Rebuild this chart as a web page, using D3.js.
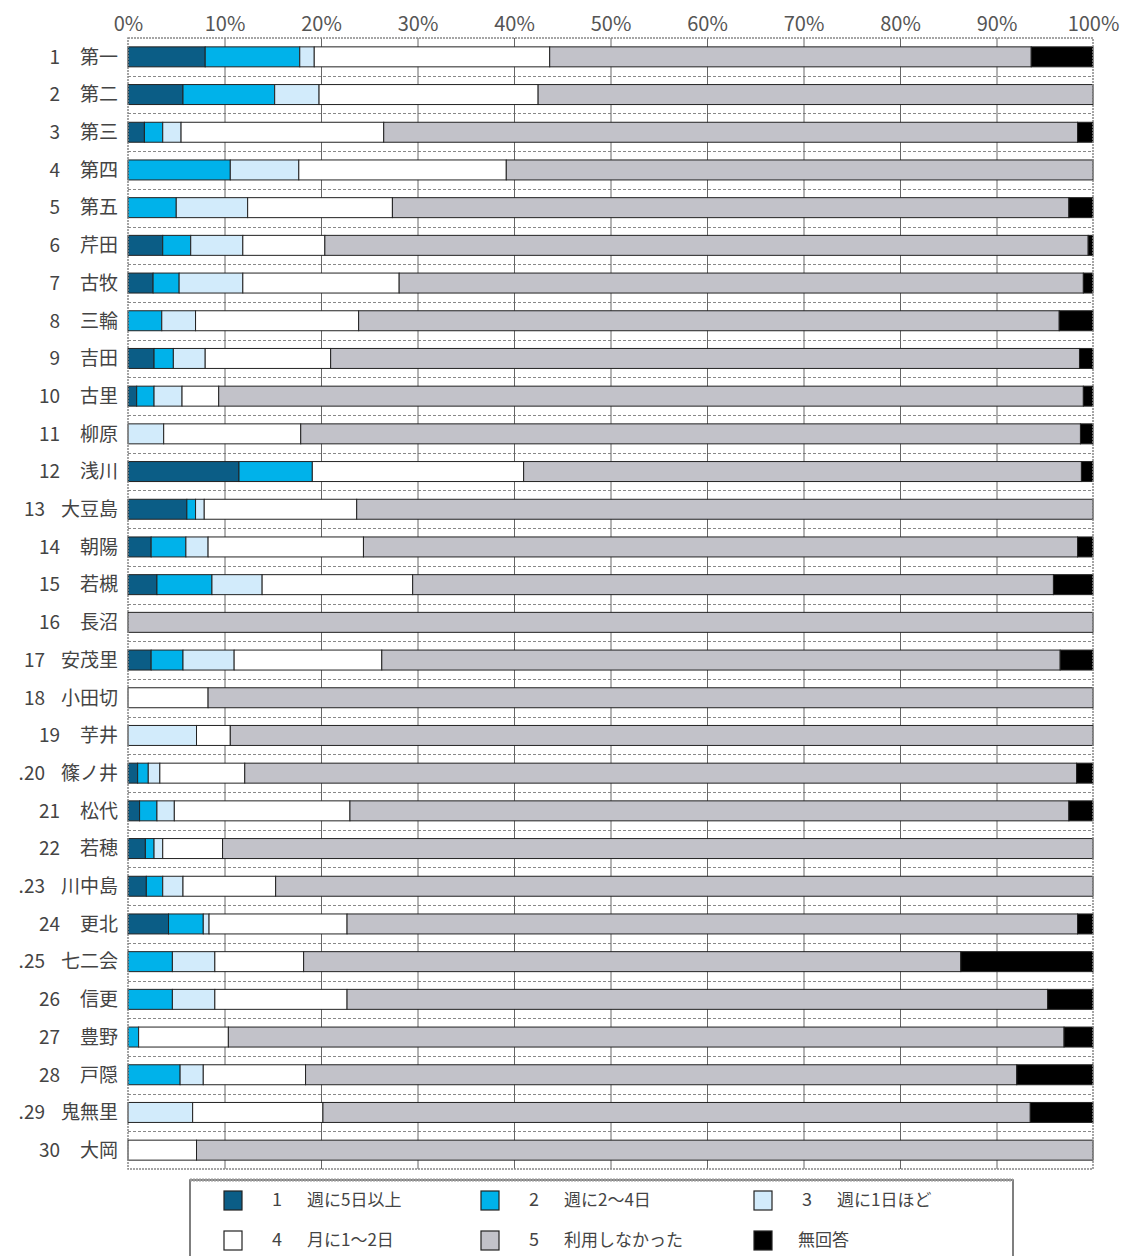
<!DOCTYPE html>
<html>
<head>
<meta charset="utf-8">
<script src="https://cdn.jsdelivr.net/npm/d3@7"></script>
<style>
  body { margin: 0; background: #fff; }
  svg { display: block; }
  text { font-family: "Noto Sans CJK JP", "Liberation Sans", sans-serif; fill: #444; }
</style>
</head>
<body>
<svg width="1125" height="1256"></svg>
<script>
const districtNums = ['1', '2', '3', '4', '5', '6', '7', '8', '9', '10',
    '11', '12', '13', '14', '15', '16', '17', '18', '19', '.20',
    '21', '22', '.23', '24', '.25', '26', '27', '28', '.29', '30'];
const districtNames = ['第一', '第二', '第三', '第四', '第五', '芹田', '古牧', '三輪', '吉田', '古里',
    '柳原', '浅川', '大豆島', '朝陽', '若槻', '長沼', '安茂里', '小田切', '芋井', '篠ノ井',
    '松代', '若穂', '川中島', '更北', '七二会', '信更', '豊野', '戸隠', '鬼無里', '大岡'];

const seriesKeys = ['s1', 's2', 's3', 's4', 's5', 'na'];
const seriesNums = ['1', '2', '3', '4', '5', ''];
const seriesLabels = ['週に5日以上', '週に2～4日', '週に1日ほど', '月に1～2日', '利用しなかった', '無回答'];

const s1 = [8.0, 5.7, 1.7, 0, 0, 3.6, 2.6, 0, 2.7, 0.9, 0, 11.5, 6.1, 2.4, 3.0, 0, 2.4, 0, 0, 1.0, 1.2, 1.8, 1.9, 4.2, 0, 0, 0, 0, 0, 0];
const s2 = [9.8, 9.5, 1.9, 10.6, 5.0, 2.9, 2.7, 3.5, 2.0, 1.8, 0, 7.6, 0.9, 3.6, 5.7, 0, 3.3, 0, 0, 1.1, 1.8, 0.9, 1.7, 3.6, 4.6, 4.6, 1.1, 5.4, 0, 0];
const s3 = [1.5, 4.6, 1.9, 7.1, 7.4, 5.4, 6.6, 3.5, 3.3, 2.9, 3.7, 0, 0.9, 2.3, 5.2, 0, 5.3, 0, 7.1, 1.2, 1.8, 0.9, 2.1, 0.6, 4.4, 4.4, 0, 2.4, 6.7, 0];
const s4 = [24.4, 22.7, 21.0, 21.5, 15.0, 8.5, 16.2, 16.9, 13.0, 3.8, 14.2, 21.9, 15.8, 16.1, 15.6, 0, 15.3, 8.3, 3.5, 8.8, 18.2, 6.2, 9.6, 14.3, 9.2, 13.7, 9.3, 10.6, 13.5, 7.1];
const s5 = [49.9, 57.5, 71.9, 60.8, 70.1, 79.1, 70.9, 72.6, 77.6, 89.6, 80.8, 57.8, 76.3, 74.0, 66.4, 100, 70.3, 91.7, 89.4, 86.2, 74.5, 90.2, 84.7, 75.7, 68.1, 72.6, 86.6, 73.7, 73.3, 92.9];
const na = [6.4, 0, 1.6, 0, 2.5, 0.5, 1.0, 3.5, 1.4, 1.0, 1.3, 1.2, 0, 1.6, 4.1, 0, 3.4, 0, 0, 1.7, 2.5, 0, 0, 1.6, 13.7, 4.7, 3.0, 7.9, 6.5, 0];

const xTicks = [0, 10, 20, 30, 40, 50, 60, 70, 80, 90, 100];

const colors = {
    s1: '#0b5d86',
    s2: '#00b2ea',
    s3: '#d2ebfb',
    s4: '#ffffff',
    s5: '#c2c2c9',
    na: '#000000'
};

const table = districtNames.map((name, i) => ({
    name, num: districtNums[i],
    s1: s1[i], s2: s2[i], s3: s3[i], s4: s4[i], s5: s5[i], na: na[i]
}));

const margin = { top: 38, left: 128 };
const width = 965;
const height = 1131;

const svg = d3.select('svg');

const chart = svg.append('g')
    .attr('transform', `translate(${margin.left}, ${margin.top})`);

const xScale = d3.scaleLinear()
    .domain([0, 100])
    .range([0, width]);

const yScale = d3.scaleBand()
    .domain(districtNames)
    .range([0, height])
    .paddingInner(0.47)
    .paddingOuter(0.235);

const rowScale = d3.scaleBand()
    .domain(districtNames)
    .range([0, height]);

// dashed lines between the rows
chart.append('g')
    .selectAll('line')
    .data(districtNames.slice(1))
    .enter()
    .append('line')
    .attr('x1', 0)
    .attr('x2', width)
    .attr('y1', (d) => Math.round(rowScale(d)) + 0.5)
    .attr('y2', (d) => Math.round(rowScale(d)) + 0.5)
    .attr('stroke', '#888')
    .attr('stroke-width', 1.2)
    .attr('stroke-dasharray', '3,2');

// vertical grid
chart.append('g')
    .call(d3.axisTop(xScale)
        .tickValues(xTicks.slice(1, -1))
        .tickSize(-height)
        .tickFormat(''))
    .call((g) => g.select('.domain').remove())
    .call((g) => g.selectAll('line').attr('stroke', '#666'));

// top axis labels
chart.append('g')
    .call(d3.axisTop(xScale)
        .tickValues(xTicks)
        .tickSize(0)
        .tickPadding(7)
        .tickFormat((d) => d + '%'))
    .call((g) => g.select('.domain').remove())
    .call((g) => g.selectAll('text')
        .attr('font-size', 20)
        .attr('font-family', '"DejaVu Sans", sans-serif')
        .style('fill', '#555'));

const stacked = d3.stack().keys(seriesKeys)(table);

chart.append('g')
    .selectAll('g')
    .data(stacked)
    .enter()
    .append('g')
    .attr('fill', (s) => colors[s.key])
    .selectAll('rect')
    .data((s) => s.filter((d) => d[1] - d[0] > 0))
    .enter()
    .append('rect')
    .attr('x', (d) => xScale(d[0]))
    .attr('y', (d) => yScale(d.data.name))
    .attr('width', (d) => xScale(d[1]) - xScale(d[0]))
    .attr('height', yScale.bandwidth())
    .attr('stroke', '#222')
    .attr('stroke-width', 1);

// plot frame
chart.append('rect')
    .attr('x', 0)
    .attr('y', 0)
    .attr('width', width)
    .attr('height', height)
    .attr('fill', 'none')
    .attr('stroke', '#888')
    .attr('stroke-width', 1.5)
    .attr('stroke-dasharray', '2,1');

// row labels: name right-aligned, number placed just before the name
const labels = svg.append('g')
    .selectAll('g')
    .data(table)
    .enter()
    .append('g')
    .attr('transform', (d) => `translate(0, ${margin.top + rowScale(d.name) + rowScale.bandwidth() / 2})`);

const names = labels.append('text')
    .attr('x', 118)
    .attr('dy', '0.36em')
    .attr('text-anchor', 'end')
    .attr('font-size', 19)
    .text((d) => d.name);

labels.append('text')
    .attr('x', function (d, i) {
        const w = names.nodes()[i].getComputedTextLength();
        return Math.min(60, 118 - w - 16);
    })
    .attr('dy', '0.36em')
    .attr('text-anchor', 'end')
    .attr('font-size', 19)
    .attr('font-family', '"DejaVu Sans", sans-serif')
    .text((d) => d.num);

// legend
const legend = svg.append('g');

legend.append('rect')
    .attr('x', 190)
    .attr('y', 1180)
    .attr('width', 823)
    .attr('height', 100)
    .attr('fill', '#fff')
    .attr('stroke', '#555')
    .attr('stroke-width', 1.5);

legend.append('line')
    .attr('x1', 190)
    .attr('x2', 1013)
    .attr('y1', 1180)
    .attr('y2', 1180)
    .attr('stroke', '#999')
    .attr('stroke-width', 3)
    .attr('stroke-dasharray', '2,1');

const legendCols = [224, 481, 754];
const legendRows = [1200, 1240];

const items = legend.selectAll('.item')
    .data(seriesKeys)
    .enter()
    .append('g')
    .attr('class', 'item')
    .attr('transform', (k, i) => `translate(${legendCols[i % 3]}, ${legendRows[Math.floor(i / 3)]})`);

items.append('rect')
    .attr('x', 0)
    .attr('y', -9)
    .attr('width', 18)
    .attr('height', 19)
    .attr('fill', (k) => colors[k])
    .attr('stroke', '#222')
    .attr('stroke-width', 1.2);

items.append('text')
    .attr('x', 48)
    .attr('dy', '0.36em')
    .attr('font-size', 18)
    .attr('font-family', '"DejaVu Sans", sans-serif')
    .text((k, i) => seriesNums[i]);

items.append('text')
    .attr('x', (k, i) => seriesNums[i] ? 83 : 44)
    .attr('dy', '0.36em')
    .attr('font-size', 17)
    .text((k, i) => seriesLabels[i]);
</script>
</body>
</html>
